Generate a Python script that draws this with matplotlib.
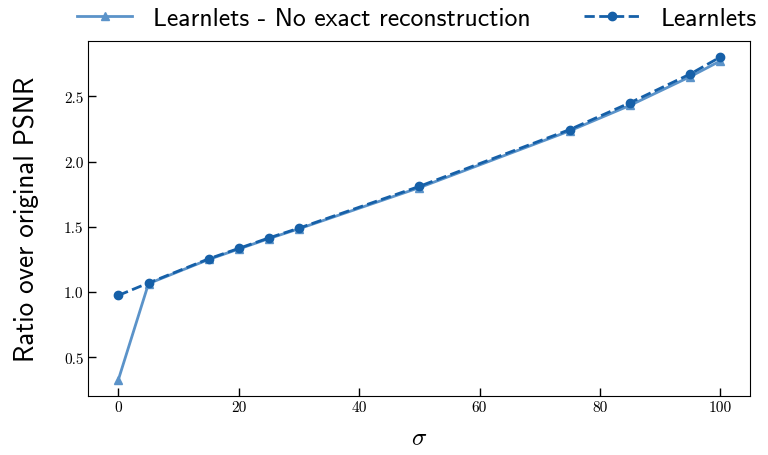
import matplotlib
matplotlib.use("Agg")
import matplotlib.pyplot as plt

sigmas = [0, 5, 15, 20, 25, 30, 50, 75, 85, 95, 100]
ratio_no_exact = [0.33, 1.065, 1.25, 1.33, 1.41, 1.485, 1.80, 2.235, 2.43, 2.65, 2.77]
ratio_learnlets = [0.975, 1.07, 1.255, 1.335, 1.415, 1.49, 1.81, 2.245, 2.45, 2.67, 2.80]

plt.rcParams['mathtext.fontset'] = 'cm'
plt.rcParams['axes.unicode_minus'] = False

fig, ax = plt.subplots(figsize=(7.68, 4.56), dpi=100)
ax.plot(sigmas, ratio_no_exact, color="#5b93c9", marker="^", markersize=6,
        linewidth=2, label="Learnlets - No exact reconstruction")
ax.plot(sigmas, ratio_learnlets, color="#1660a8", marker="o", markersize=6,
        linewidth=2, linestyle="--", label="Learnlets")

ax.set_yticks([0.5, 1.0, 1.5, 2.0, 2.5])
ax.tick_params(direction="in", length=6, width=1, labelsize=11)
for lab in ax.get_xticklabels() + ax.get_yticklabels():
    lab.set_fontfamily("cmr10")
ax.set_xlabel(r"$\sigma$", fontsize=18, labelpad=8)
ax.set_ylabel("Ratio over original PSNR", fontsize=19.5, fontfamily="cmss10", labelpad=18)
ax.legend(loc="lower center", bbox_to_anchor=(0.496, 0.965), ncol=2, frameon=False,
          prop={"family": "cmss10", "size": 18.5}, columnspacing=2.1,
          handlelength=2.15, handletextpad=0.8)

fig.subplots_adjust(left=0.115, right=0.977, top=0.908, bottom=0.13)
fig.savefig("out.png", dpi=100)
